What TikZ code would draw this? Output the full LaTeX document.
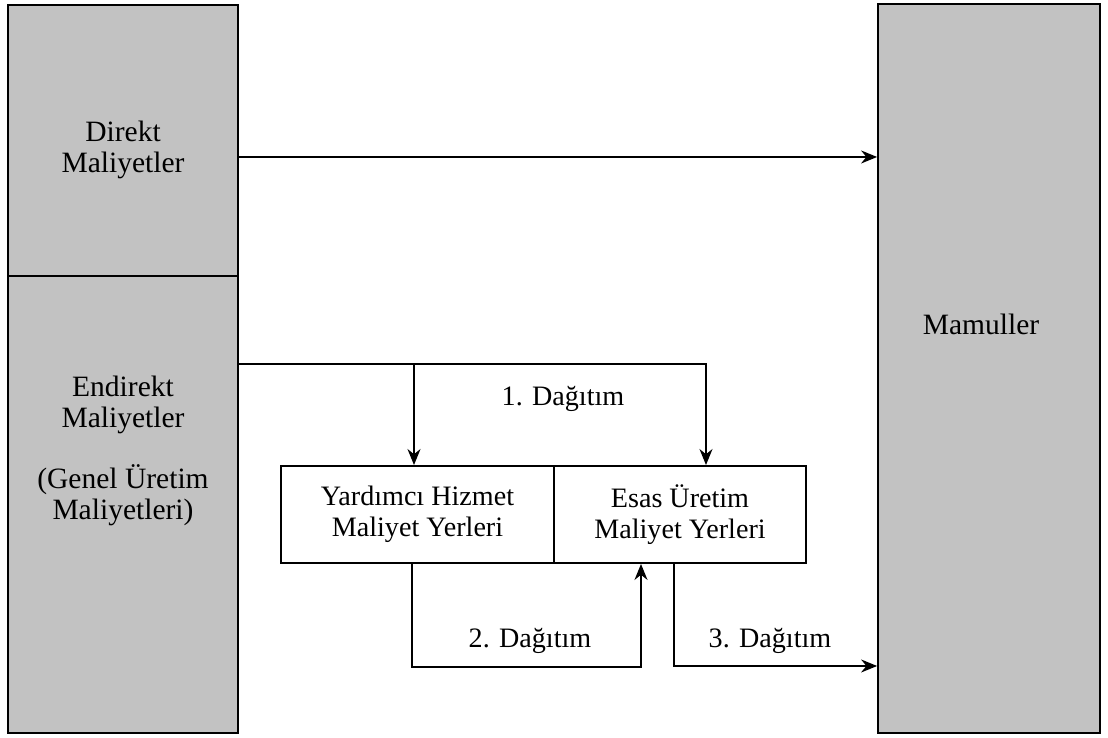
\documentclass[tikz,border=0pt]{standalone}
\usepackage{fontspec}
\setmainfont{Liberation Serif}
\usetikzlibrary{arrows.meta, positioning}
\definecolor{DotGray}{HTML}{C2C2C2}

\begin{document}
\begin{tikzpicture}[
  costbox/.style={rectangle, draw=black, line width=1pt, fill=DotGray, inner sep=0pt},
  place/.style={rectangle, draw=black, line width=1.1pt, inner sep=0pt,
    minimum height=1.94cm, align=center, font=\fontsize{16}{17.5}\selectfont},
  txt/.style={align=center, font=\fontsize{16}{17.5}\selectfont},
  sidetxt/.style={align=center, font=\fontsize{16.8}{17.5}\selectfont},
  line/.style={line width=0.9pt, -{Stealth[length=3.2mm, width=2.6mm]}}
]
\useasboundingbox (0,0) rectangle (22.16,14.76);

% cost blocks
\node[costbox, minimum width=4.6cm, minimum height=5.42cm] (direkt) at (2.46,11.95) {};
\node[costbox, minimum width=4.6cm, minimum height=9.14cm] (endirekt) at (2.46,4.67) {};
\node[costbox, minimum width=4.44cm, minimum height=14.58cm] (mamul) at (19.78,7.39) {};

\node[sidetxt] (direktT) at (2.46,11.76) {Direkt\\Maliyetler};
\node[sidetxt] (endirektT) at (2.46,5.74) {Endirekt\\Maliyetler\\[17pt](Genel Üretim\\Maliyetleri)};
\node[sidetxt] (mamulT) at (19.62,8.28) {Mamuller};

% cost centres
\node[place, minimum width=5.46cm] (yardimci) at (8.35,4.47) {Yardımcı Hizmet\\Maliyet Yerleri};
\node[place, minimum width=5.04cm] (esas) at (13.6,4.47) {Esas Üretim\\Maliyet Yerleri};

% connectors
\coordinate (split) at (14.12,7.48);
\draw[line] ([yshift=-3.3mm]direkt.east) -- ([yshift=-3.3mm]direkt.east -| mamul.west);
\draw[line] (endirekt.east |- split) -| ([xshift=5.2mm]esas.north);
\draw[line] ([xshift=-0.7mm]yardimci.north |- split) -- ([xshift=-0.7mm]yardimci.north);
\draw[line] ([xshift=-1.1mm]yardimci.south) -- ++(0,-2.06) -| ([xshift=-7.8mm]esas.south);
\draw[line] ([xshift=-1.2mm]esas.south) |- (mamul.west |- 0,1.44);

\node[txt] (d1) at (11.26,6.78) {1. Dağıtım};
\node[txt] (d2) at (10.6,1.94) {2. Dağıtım};
\node[txt] (d3) at (15.4,1.94) {3. Dağıtım};
\end{tikzpicture}
\end{document}
